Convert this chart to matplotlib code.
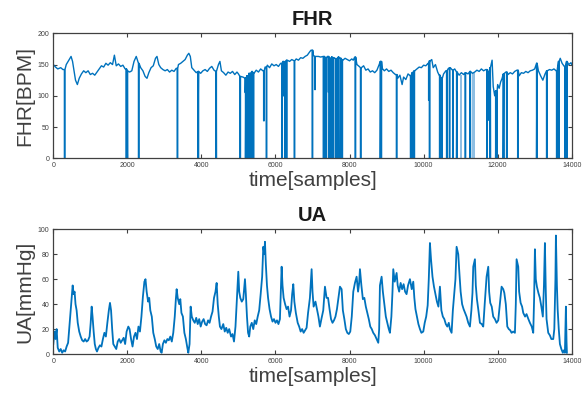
import numpy as np
import matplotlib
matplotlib.use("Agg")
import matplotlib.pyplot as plt

plt.rcParams['font.family'] = ['Liberation Sans', 'DejaVu Sans']

# FHR baseline (sample, bpm)
fhr_t = [0, 60, 120, 200, 260, 350, 420, 480, 520, 560, 600, 650, 700, 760, 820, 880, 940, 1000, 1060, 1120,
         1180, 1240, 1300, 1360, 1420, 1480, 1540, 1600, 1650, 1700, 1760, 1820, 1880, 1940, 2000, 2060, 2120,
         2180, 2240, 2300, 2360, 2420, 2480, 2530, 2580, 2640, 2700, 2760, 2800, 2850, 2900, 2960, 3020, 3080,
         3140, 3200, 3260, 3320, 3380, 3440, 3500, 3560, 3620, 3660, 3700, 3740, 3800, 3860, 3920, 3980, 4040,
         4100, 4160, 4220, 4280, 4340, 4400, 4460, 4500, 4540, 4600, 4660, 4720, 4780, 4840, 4900, 4960, 5000,
         5060, 5120, 5180, 5240, 5300, 5360, 5420, 5480, 5540, 5600, 5660, 5720, 5780, 5840, 5900, 5960, 6020,
         6080, 6140, 6200, 6260, 6320, 6380, 6440, 6500, 6560, 6620, 6680, 6740, 6800, 6860, 6920, 6960, 7020,
         7080, 7160, 7220, 7280, 7340, 7400, 7460, 7520, 7580, 7640, 7700, 7760, 7820, 7880, 7940, 8000, 8060,
         8100, 8140, 8200, 8260, 8320, 8380, 8440, 8500, 8560, 8620, 8680, 8740, 8800, 8840, 8880, 8940, 9000,
         9060, 9120, 9180, 9240, 9300, 9360, 9420, 9460, 9520, 9580, 9640, 9700, 9760, 9820, 9880, 9940, 10000,
         10060, 10120, 10180, 10220, 10260, 10320, 10380, 10420, 10480, 10540, 10600, 10660, 10720, 10780, 10840,
         10900, 10960, 11020, 11080, 11140, 11200, 11260, 11320, 11380, 11440, 11500, 11560, 11620, 11680, 11740,
         11800, 11850, 11880, 11920, 11960, 12000, 12040, 12080, 12120, 12160, 12220, 12280, 12340, 12400, 12460,
         12520, 12580, 12640, 12700, 12760, 12820, 12880, 12940, 13000, 13060, 13100, 13160, 13220, 13280, 13340,
         13400, 13460, 13520, 13580, 13640, 13690, 13740, 13800, 13860, 13920, 13980, 14000]
fhr_v = [150, 146, 143, 145, 142, 150, 157, 163, 155, 140, 125, 118, 128, 135, 140, 137, 140, 134, 136, 133,
         138, 143, 148, 146, 152, 149, 153, 150, 165, 148, 151, 147, 149, 143, 140, 138, 140,
         155, 163, 152, 145, 140, 131, 128, 137, 145, 148, 160, 163, 150, 145, 142, 140, 142,
         138, 141, 139, 144, 150, 152, 155, 158, 165, 168, 163, 145, 141, 137, 139, 136, 140,
         142, 139, 144, 147, 141, 139, 150, 155, 140, 137, 133, 138, 136, 139, 134, 138, 135,
         131, 130, 128, 132, 136, 139, 136, 141, 138, 143, 140, 146, 149, 145, 151, 148, 150,
         147, 152, 155, 154, 157, 155, 158, 156, 159, 157, 161, 160, 163, 165, 170, 173, 165,
         163, 163, 162, 163, 161, 163, 160, 162, 161, 159, 162, 160, 157, 160, 158, 156, 159,
         157, 162, 150, 147, 145, 148, 141, 143, 138, 140, 137, 141, 150, 155, 144, 140, 143,
         139, 141, 137, 134, 128, 133, 118, 130, 126, 135, 132, 137, 140, 143, 146, 145, 149,
         148, 152, 156, 158, 145, 150, 138, 133, 128, 135, 140, 143, 145, 141, 143,
         138, 133, 137, 134, 137, 135, 139, 136, 138, 141, 139, 143, 140, 142, 138,
         145, 157, 115, 100, 108, 118, 112, 122, 128, 135, 138, 134, 137, 135, 139,
         141, 132, 137, 136, 139, 137, 140, 141, 143, 152, 140, 132, 125, 135, 140,
         142, 141, 143, 140, 155, 160, 152, 147, 155, 150, 153, 150]

# FHR signal losses: sample where the trace drops, and the level it drops to
drop_t = [300, 1965, 1990, 2300, 3345, 3905, 4390, 5040, 5185, 5190, 5230, 5260, 5280, 5320, 5360, 5400,
          5680, 5750, 6170, 6215, 6255, 6295, 6505, 6990, 7060, 7290, 7310, 7365, 7425, 7450, 7490, 7515,
          7560, 7635, 7695, 7760, 7795, 8150, 8295, 8830, 8850, 9265, 9645, 9690, 9740, 10135, 10155,
          10430, 10470, 10490, 10620, 10695, 10785, 10890, 11120, 11250, 11705, 11755, 11790, 11945,
          11970, 12150, 12240, 12540, 13050, 13320, 13590, 13645, 13815, 13860]
drop_v = [0, 0, 0, 0, 0, 0, 0, 0, 105, 0, 0, 100, 0, 0, 0, 0,
          60, 0, 0, 100, 0, 0, 0, 0, 110, 0, 0, 0, 106, 0, 0, 0,
          0, 0, 0, 0, 0, 0, 0, 0, 0, 0, 0, 0, 0, 93, 0,
          0, 93, 0, 0, 0, 0, 0, 0, 0, 0, 61, 0, 0,
          0, 0, 0, 0, 0, 0, 0, 0, 0, 0]
# dense loss stretches drawn lighter in the reference
gap_start = [10985, 11320]
gap_end = [11030, 11390]

# UA (sample, mmHg)
ua_t = [0, 30, 60, 90, 120, 160, 200, 240, 280, 320, 360, 400, 430, 460, 490, 523, 550, 575, 600, 630, 660, 700,
        740, 780, 820, 860, 900, 940, 980, 1010, 1036, 1060, 1090, 1120, 1150, 1180, 1220, 1260, 1300, 1340,
        1380, 1420, 1460, 1500, 1531, 1560, 1590, 1620, 1660, 1700, 1740, 1780, 1820, 1860, 1900, 1940, 1980,
        2026, 2060, 2100, 2140, 2180, 2220, 2260, 2300, 2340, 2380, 2420, 2460, 2490, 2521, 2560, 2590, 2620,
        2660, 2700, 2740, 2780, 2820, 2860, 2900, 2926, 2960, 3000, 3040, 3080, 3120, 3160, 3200, 3240, 3280,
        3310, 3331, 3360, 3400, 3430, 3460, 3500, 3540, 3580, 3620, 3646, 3680, 3709, 3740, 3780, 3820, 3860,
        3900, 3940, 3980, 4020, 4060, 4100, 4140, 4180, 4220, 4260, 4300, 4340, 4380, 4411, 4440, 4470, 4500,
        4540, 4590, 4630, 4670, 4710, 4750, 4800, 4840, 4880, 4920, 4960, 4996, 5020, 5050, 5090, 5130, 5176,
        5200, 5230, 5260, 5290, 5320, 5360, 5400, 5440, 5480, 5520, 5560, 5600, 5640, 5671, 5700, 5716, 5740,
        5770, 5800, 5840, 5880, 5920, 5960, 6000, 6040, 6080, 6120, 6166, 6190, 6220, 6260, 6300, 6340, 6380,
        6420, 6450, 6481, 6510, 6550, 6600, 6640, 6680, 6720, 6760, 6800, 6840, 6880, 6930, 6976, 7000, 7030,
        7080, 7120, 7160, 7200, 7240, 7290, 7336, 7380, 7420, 7460, 7500, 7540, 7580, 7620, 7660, 7700, 7741,
        7786, 7820, 7860, 7900, 7940, 7980, 8020, 8060, 8101, 8146, 8191, 8230, 8260, 8281, 8320, 8360, 8400,
        8440, 8480, 8520, 8560, 8600, 8640, 8686, 8730, 8776, 8800, 8821, 8866, 8900, 8940, 8980, 9020, 9060,
        9091, 9130, 9160, 9181, 9220, 9271, 9300, 9340, 9380, 9420, 9460, 9500, 9540, 9580, 9631, 9680, 9721,
        9750, 9780, 9820, 9860, 9901, 9940, 9991, 10030, 10070, 10110, 10140, 10171, 10200, 10240, 10280, 10320,
        10360, 10400, 10441, 10480, 10520, 10560, 10600, 10640, 10680, 10711, 10756, 10790, 10820, 10860, 10891,
        10936, 10960, 11000, 11040, 11080, 11120, 11160, 11206, 11251, 11290, 11320, 11341, 11386, 11410, 11440,
        11480, 11521, 11570, 11611, 11650, 11701, 11746, 11770, 11800, 11840, 11880, 11926, 11970, 12016, 12060,
        12106, 12151, 12180, 12220, 12260, 12300, 12340, 12376, 12420, 12466, 12490, 12511, 12556, 12580, 12620,
        12660, 12691, 12740, 12780, 12830, 12871, 12920, 12961, 12985, 13006, 13030, 13060, 13100, 13140, 13180,
        13220, 13250, 13276, 13300, 13320, 13366, 13410, 13450, 13501, 13530, 13560, 13573, 13600, 13620, 13650,
        13681, 13720, 13760, 13790, 13816, 13830, 13843, 13860, 13870]
ua_v = [8, 18, 12, 20, 5, 2, 4, 1, 3, 2, 6, 9, 20, 30, 42, 55, 48, 50, 40, 35, 25, 18,
        14, 11, 10, 12, 10, 11, 14, 25, 38, 30, 18, 8, 4, 2, 5, 7, 6, 12,
        17, 14, 25, 35, 41, 35, 20, 8, 6, 4, 10, 12, 9, 11, 13, 8, 18,
        22, 20, 12, 6, 14, 17, 12, 22, 18, 30, 46, 58, 60, 50, 42, 45, 35,
        30, 17, 12, 6, 4, 8, 2, 1, 8, 11, 9, 12, 11, 14, 10, 17, 30,
        44, 52, 45, 40, 44, 33, 30, 17, 12, 5, 1, 8, 38, 30, 27, 25, 29,
        24, 28, 22, 26, 28, 24, 23, 27, 25, 30, 34, 45, 50, 57, 40, 30, 22,
        20, 24, 18, 21, 17, 20, 14, 16, 10, 22, 45, 66, 50, 45, 42, 44, 60,
        48, 30, 17, 14, 22, 25, 20, 27, 24, 30, 35, 48, 62, 86, 80, 90, 72,
        55, 45, 36, 30, 26, 28, 25, 27, 24, 28, 70, 55, 45, 40, 36, 38, 30,
        35, 48, 56, 42, 33, 25, 22, 18, 20, 17, 19, 21, 33, 45, 68, 50, 38,
        42, 36, 30, 22, 28, 35, 54, 45, 45, 36, 28, 25, 27, 30, 36, 45, 54,
        52, 35, 28, 20, 17, 16, 18, 30, 50, 57, 62, 50, 57, 68, 55, 44, 45,
        38, 33, 28, 22, 20, 17, 15, 12, 9, 20, 55, 62, 50, 40, 30, 25, 20,
        17, 30, 50, 68, 58, 65, 55, 50, 57, 52, 56, 50, 48, 55, 60, 52, 58,
        45, 36, 30, 24, 20, 17, 18, 25, 30, 39, 60, 89, 76, 62, 54, 48,
        42, 38, 54, 35, 30, 28, 24, 22, 25, 20, 17, 35, 46, 60, 86,
        80, 68, 50, 40, 36, 33, 30, 25, 22, 35, 49, 70, 76, 55, 44,
        35, 25, 24, 22, 40, 62, 70, 50, 41, 38, 30, 28, 25, 27, 40,
        54, 52, 49, 40, 22, 20, 19, 17, 18, 17, 40, 76, 70, 50, 41,
        38, 33, 30, 32, 28, 25, 22, 17, 45, 84, 60, 54, 49, 45, 38,
        30, 55, 89, 50, 28, 17, 15, 12, 12, 20, 60, 95, 55, 36, 20,
        8, 4, 1, 3, 1, 20, 38, 10, 1]

xticks = [0, 2000, 4000, 6000, 8000, 10000, 12000, 14000]
fhr_yticks = [0, 50, 100, 150, 200]
ua_yticks = [0, 20, 40, 60, 80, 100]

line_col = '#0072BD'
light_col = '#8FBFE3'
grey = '#404040'

# merge baseline and drops into one trace
ft = np.array(fhr_t)
fv = np.array(fhr_v)
pts = [(t, 0, v) for t, v in zip(fhr_t, fhr_v)]
for d, lvl in zip(drop_t, drop_v):
    v = fv[np.argmin(np.abs(ft - d))]
    pts += [(d, 1, v), (d, 2, lvl), (d + 15, 3, lvl), (d + 15, 4, v)]
pts.sort(key=lambda p: (p[0], p[1]))
fhr_x = [p[0] for p in pts]
fhr_y = [p[2] for p in pts]

fig = plt.figure(figsize=(5.85, 3.97), dpi=100)
ax1 = fig.add_axes([0.0911, 0.6013, 0.8862, 0.3148])
ax2 = fig.add_axes([0.0911, 0.1083, 0.8862, 0.3141])

for a, b in zip(gap_start, gap_end):
    v = fv[np.argmin(np.abs(ft - a))]
    ax1.fill_between([a, b], 0, v, color=light_col, lw=0)
ax1.plot(fhr_x, fhr_y, color=line_col, lw=1.0)
ax2.plot(ua_t, ua_v, color=line_col, lw=1.3)

ax1.set_ylim(0, 200)
ax1.set_yticks(fhr_yticks)
ax2.set_ylim(0, 100)
ax2.set_yticks(ua_yticks)

for ax, title, ylab in [(ax1, 'FHR', 'FHR[BPM]'), (ax2, 'UA', 'UA[mmHg]')]:
    ax.set_xlim(0, 14000)
    ax.set_xticks(xticks)
    ax.tick_params(direction='in', length=3, width=0.8, top=True, right=True,
                   labelsize=5, colors=grey, pad=3)
    for s in ax.spines.values():
        s.set_color(grey)
        s.set_linewidth(0.9)
    ax.set_title(title, fontsize=14.5, fontweight='bold', color='#1a1a1a', pad=6)
    ax.set_xlabel('time[samples]', fontsize=15, color=grey, labelpad=1)
    ax.set_ylabel(ylab, fontsize=15, color=grey, labelpad=2)

fig.savefig('out.png', dpi=100)
